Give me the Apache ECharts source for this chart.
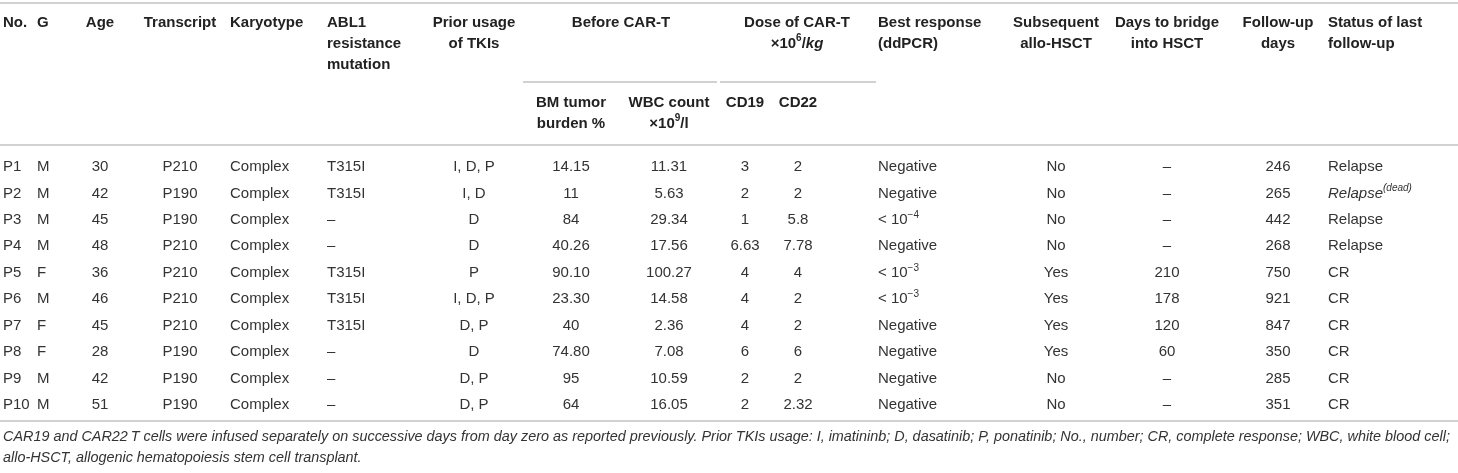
<!DOCTYPE html>
<html lang="en">
<head>
  <meta charset="utf-8" />
  <title>CAR-T patients table</title>
  <script src="https://cdn.jsdelivr.net/npm/echarts@6.0.0/dist/echarts.min.js"></script>
  <style>
    html, body { margin: 0; padding: 0; background: #fff; }
    #main { width: 1458px; height: 473px; }
  </style>
</head>
<body>
  <div id="main"></div>
  <script>
    // one array per column, rows P1..P10
    var patientNo = ['P1', 'P2', 'P3', 'P4', 'P5', 'P6', 'P7', 'P8', 'P9', 'P10'];
    var gender = ['M', 'M', 'M', 'M', 'F', 'M', 'F', 'F', 'M', 'M'];
    var age = [30, 42, 45, 48, 36, 46, 45, 28, 42, 51];
    var transcript = ['P210', 'P190', 'P190', 'P210', 'P210', 'P210', 'P210', 'P190', 'P190', 'P190'];
    var karyotype = ['Complex', 'Complex', 'Complex', 'Complex', 'Complex', 'Complex', 'Complex', 'Complex', 'Complex', 'Complex'];
    var ablMutation = ['T315I', 'T315I', '–', '–', 'T315I', 'T315I', 'T315I', '–', '–', '–'];
    var priorTKIs = ['I, D, P', 'I, D', 'D', 'D', 'P', 'I, D, P', 'D, P', 'D', 'D, P', 'D, P'];
    var bmTumorBurden = ['14.15', '11', '84', '40.26', '90.10', '23.30', '40', '74.80', '95', '64'];
    var wbcCount = ['11.31', '5.63', '29.34', '17.56', '100.27', '14.58', '2.36', '7.08', '10.59', '16.05'];
    var doseCD19 = ['3', '2', '1', '6.63', '4', '4', '4', '6', '2', '2'];
    var doseCD22 = ['2', '2', '5.8', '7.78', '4', '2', '2', '6', '2', '2.32'];
    var bestResponse = ['Negative', 'Negative', '< 10{sup|−4}', 'Negative', '< 10{sup|−3}', '< 10{sup|−3}', 'Negative', 'Negative', 'Negative', 'Negative'];
    var alloHSCT = ['No', 'No', 'No', 'No', 'Yes', 'Yes', 'Yes', 'Yes', 'No', 'No'];
    var daysToBridge = ['–', '–', '–', '–', '210', '178', '120', '60', '–', '–'];
    var followUpDays = [246, 265, 442, 268, 750, 921, 847, 350, 285, 351];
    var lastStatus = ['Relapse', '{it|Relapse}{itsup|(dead)}', 'Relapse', 'Relapse', 'CR', 'CR', 'CR', 'CR', 'CR', 'CR'];

    var headers = ['No.', 'G', 'Age', 'Transcript', 'Karyotype', 'ABL1\nresistance\nmutation', 'Prior usage\nof TKIs',
      'BM tumor\nburden %', 'WBC count\n×10{sup|9}/l', 'CD19', 'CD22', 'Best response\n(ddPCR)',
      'Subsequent\nallo-HSCT', 'Days to bridge\ninto HSCT', 'Follow-up\ndays', 'Status of last\nfollow-up'];
    var groupHeaders = ['Before CAR-T', 'Dose of CAR-T\n×10{sup|6}/{it|kg}'];

    var footnote = [
      'CAR19 and CAR22\u2009T cells were infused separately on successive days from day zero as reported previously. Prior TKIs usage: I, imatininb; D, dasatinib; P, ponatinib; No., number; CR, complete response; WBC, white blood cell;',
      'allo-HSCT, allogenic hematopoiesis stem cell transplant.'
    ];

    var columns = [patientNo, gender, age, transcript, karyotype, ablMutation, priorTKIs, bmTumorBurden,
      wbcCount, doseCD19, doseCD22, bestResponse, alloHSCT, daysToBridge, followUpDays, lastStatus];

    // layout (pixels)
    var colX = [3, 37, 100, 180, 230, 327, 474, 571, 669, 745, 798, 878, 1056, 1167, 1278, 1328];
    var colAlign = ['left', 'left', 'center', 'center', 'left', 'left', 'center', 'center', 'center',
      'center', 'center', 'left', 'center', 'center', 'center', 'left'];
    var groupCols = [[7, 8], [9, 10]];
    var groupX = [621, 797];
    var groupRule = [[523, 717], [720, 876]];
    var L = {
      width: 1458, height: 473,
      topRule: 3, headTop: 12, subRule: 82, subTop: 92, headRule: 145,
      firstRow: 167, rowPitch: 26.44, bottomRule: 421, noteTop: 426
    };
    function toRow(px) { return (px - L.firstRow) / L.rowPitch; }

    var FONT = '"Liberation Sans", Arial, Helvetica, sans-serif';
    function richSet(weight) {
      return {
        sup: { fontSize: 10, fontFamily: FONT, fontWeight: weight, verticalAlign: 'top', lineHeight: 10 },
        it: { fontSize: 15, fontFamily: FONT, fontWeight: weight, fontStyle: 'italic' },
        itsup: { fontSize: 10, fontFamily: FONT, fontWeight: weight, fontStyle: 'italic', verticalAlign: 'top', lineHeight: 10 }
      };
    }

    var subCols = [].concat.apply([], groupCols);

    var cellData = [];
    columns.forEach(function (col, c) {
      col.forEach(function (v, r) {
        cellData.push({ value: [colX[c], r], text: String(v), align: colAlign[c] });
      });
    });

    var headData = [];
    headers.forEach(function (h, c) {
      var top = subCols.indexOf(c) >= 0 ? L.subTop : L.headTop;
      headData.push({ value: [colX[c], toRow(top)], text: h, align: colAlign[c] });
    });
    groupHeaders.forEach(function (h, g) {
      headData.push({ value: [groupX[g], toRow(L.headTop)], text: h, align: 'center' });
    });

    var ruleData = [
      { value: [0, toRow(L.topRule)], x2: L.width },
      { value: [0, toRow(L.headRule)], x2: L.width },
      { value: [0, toRow(L.bottomRule)], x2: L.width }
    ];
    groupRule.forEach(function (g) {
      ruleData.push({ value: [g[0], toRow(L.subRule)], x2: g[1] });
    });

    var chartDom = document.getElementById('main');
    var myChart = echarts.init(chartDom);
    var option = {
      animation: false,
      backgroundColor: '#fff',
      title: {
        text: footnote.join('\n'),
        left: 3,
        top: L.noteTop,
        padding: 0,
        textStyle: {
          fontFamily: FONT, fontSize: 14.4, fontStyle: 'italic', fontWeight: 'normal',
          lineHeight: 21, color: '#333'
        }
      },
      grid: { left: 0, right: 0, top: 0, bottom: 0 },
      xAxis: { type: 'value', min: 0, max: L.width, show: false },
      yAxis: { type: 'value', inverse: true, min: toRow(0), max: toRow(L.height), show: false },
      series: [
        {
          name: 'rules',
          type: 'custom',
          clip: false,
          silent: true,
          data: ruleData,
          renderItem: function (params, api) {
            var d = ruleData[params.dataIndex];
            var a = api.coord(d.value);
            var b = api.coord([d.x2, d.value[1]]);
            return {
              type: 'line',
              shape: { x1: a[0], y1: a[1], x2: b[0], y2: b[1] },
              style: { stroke: '#c2c2c2', lineWidth: 1.5 }
            };
          }
        },
        {
          name: 'header',
          type: 'custom',
          clip: false,
          silent: true,
          data: headData,
          renderItem: function (params, api) {
            var d = headData[params.dataIndex];
            var p = api.coord(d.value);
            return {
              type: 'text',
              x: p[0], y: p[1],
              style: {
                text: d.text, align: d.align, verticalAlign: 'top',
                fontFamily: FONT, fontSize: 15, fontWeight: 'bold', lineHeight: 21,
                fill: '#222', rich: richSet('bold')
              }
            };
          }
        },
        {
          name: 'cells',
          type: 'custom',
          clip: false,
          silent: true,
          data: cellData,
          renderItem: function (params, api) {
            var d = cellData[params.dataIndex];
            var p = api.coord(d.value);
            return {
              type: 'text',
              x: p[0], y: p[1],
              style: {
                text: d.text, align: d.align, verticalAlign: 'middle',
                fontFamily: FONT, fontSize: 15, fontWeight: 'normal', lineHeight: 20,
                fill: '#333', rich: richSet('normal')
              }
            };
          }
        }
      ]
    };
    myChart.setOption(option);
  </script>
</body>
</html>
